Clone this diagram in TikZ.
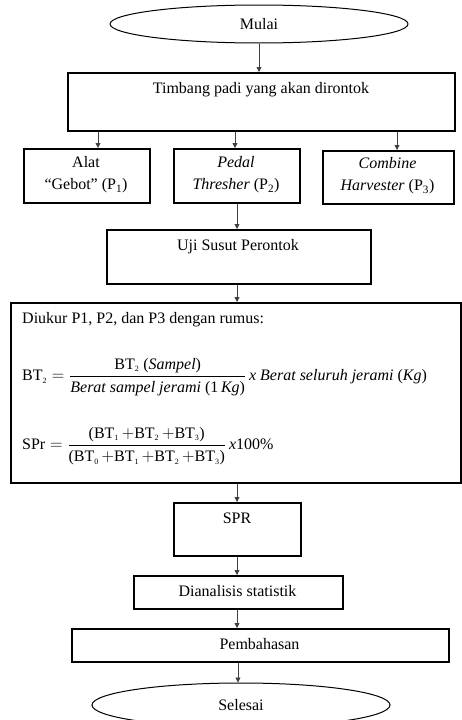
\documentclass[tikz,border=0pt]{standalone}
\usepackage{amsmath}
\usepackage{fontspec}
\setmainfont{Liberation Serif}
\usetikzlibrary{shapes.geometric,arrows.meta}
\newcommand{\sbt}[1]{\mbox{BT}_{\mbox{\fontsize{8}{8}\selectfont #1}}}
\newcommand{\pl}{\,{+}}
\newcommand{\lp}{\mbox{(}}
\newcommand{\rp}{\mbox{)}}
\begin{document}
\begin{tikzpicture}[x=1pt,y=-1pt,
  every node/.style={font=\fontsize{16}{22}\selectfont},
  boxnode/.style={draw, line width=1.5pt, inner sep=0pt, anchor=north west},
  ovalnode/.style={draw, ellipse, line width=1pt, inner sep=0pt},
  txt/.style={inner sep=0pt, align=center},
  conn/.style={draw=black!75, line width=0.8pt, -{Triangle[width=5pt,length=5pt]}}]
\useasboundingbox (0,0) rectangle (462,720);
\begin{scope}
\clip (0,0) rectangle (462,720);
% start
\node[ovalnode, minimum width=298pt, minimum height=38pt] (mulai) at (259,24) {};
\node[txt] (tmulai) at (259,24) {Mulai};
% timbang
\node[boxnode, minimum width=387pt, minimum height=58pt] (timb) at (67,72) {};
\node[txt] (ttimb) at (261,90) {Timbang padi yang akan dirontok};
% three boxes
\node[boxnode, minimum width=126pt, minimum height=54pt] (p1) at (23,148) {};
\node[txt] (tp1) at (86,175) {Alat\\“Gebot” (P\textsubscript{1})};
\node[boxnode, minimum width=126pt, minimum height=54pt] (p2) at (173,148) {};
\node[txt] (tp2) at (236,175) {\textit{Pedal}\\\textit{Thresher} (P\textsubscript{2})};
\node[boxnode, minimum width=131pt, minimum height=53pt] (p3) at (322,150) {};
\node[txt] (tp3) at (387.5,176) {\textit{Combine}\\\textit{Harvester} (P\textsubscript{3})};
% uji
\node[boxnode, minimum width=264pt, minimum height=54pt] (uji) at (106,229) {};
\node[txt] (tuji) at (238,247) {Uji Susut Perontok};
% big box
\node[boxnode, minimum width=450pt, minimum height=180pt] (big) at (10,302) {};
\node[txt, anchor=west] (tdiukur) at (22,320) {Diukur P1, P2, dan P3 dengan rumus:};
\node[txt, anchor=west] (fbt) at (22,377) {$\sbt{2}=\dfrac{\sbt{2}\ \mbox{(\textit{Sampel})}}{\mbox{\textit{Berat sampel jerami} (1\,\textit{Kg})}}\,\mbox{\textit{x Berat seluruh jerami} (\textit{Kg})}$};
\node[txt, anchor=west] (fspr) at (22,446) {$\mbox{SPr}=\dfrac{\lp\sbt{1}\pl\sbt{2}\pl\sbt{3}\rp}{\lp\sbt{0}\pl\sbt{1}\pl\sbt{2}\pl\sbt{3}\rp}\,\mbox{\textit{x}100\%}$};
% SPR
\node[boxnode, minimum width=127pt, minimum height=53pt] (spr) at (173,502) {};
\node[txt] (tspr) at (237,518) {SPR};
% dianalisis
\node[boxnode, minimum width=209pt, minimum height=33pt] (dian) at (133,575) {};
\node[txt] (tdian) at (237.5,591.5) {Dianalisis statistik};
% pembahasan
\node[boxnode, minimum width=377pt, minimum height=33pt] (pemb) at (71,628) {};
\node[txt] (tpemb) at (259.5,644.5) {Pembahasan};
% end
\node[ovalnode, minimum width=298pt, minimum height=44pt] (sel) at (241,705) {};
\node[txt] (tsel) at (241,705) {Selesai};
% connectors
\draw[conn] (mulai.south) -- (timb.north -| mulai.south);
\draw[conn] (timb.south -| 98,0) -- (p1.north -| 98,0);
\draw[conn] (timb.south -| 235,0) -- (p2.north -| 235,0);
\draw[conn] (timb.south -| 397,0) -- (p3.north -| 397,0);
\draw[conn] (p2.south -| 237,0) -- (uji.north -| 237,0);
\draw[conn] (uji.south -| 237,0) -- (big.north -| 237,0);
\draw[conn] (big.south -| 237,0) -- (spr.north -| 237,0);
\draw[conn] (spr.south -| 237,0) -- (dian.north -| 237,0);
\draw[conn] (dian.south -| 237,0) -- (pemb.north -| 237,0);
\draw[conn] (pemb.south -| 238,0) -- (sel.north -| 238,0);
\end{scope}
\end{tikzpicture}
\end{document}
